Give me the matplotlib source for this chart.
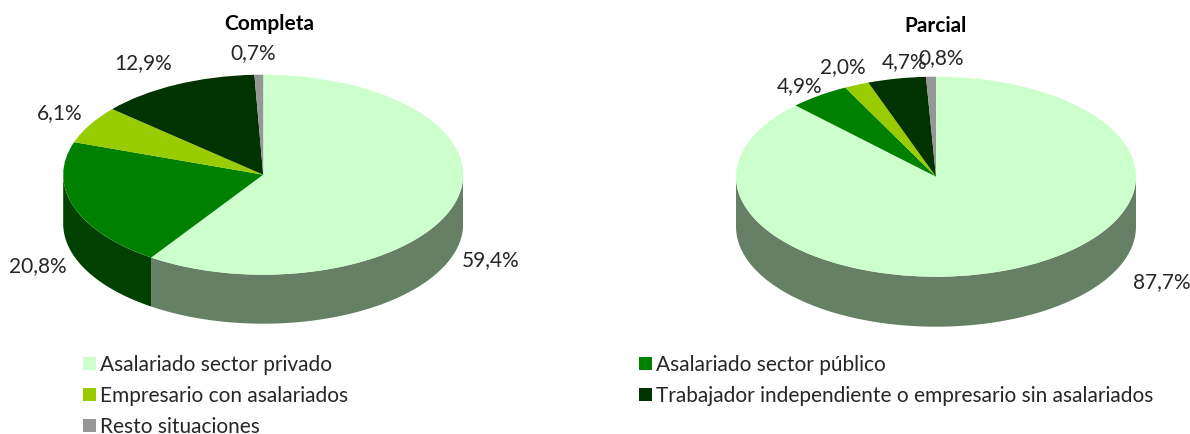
import matplotlib
matplotlib.use('Agg')
import matplotlib.pyplot as plt
from matplotlib.patches import Rectangle
import numpy as np

plt.rcParams['font.family'] = ['Lato', 'DejaVu Sans']

W, H = 1190, 435

categories = ['Asalariado sector privado', 'Asalariado sector público',
              'Empresario con asalariados',
              'Trabajador independiente o empresario sin asalariados',
              'Resto situaciones']
completa = [59.4, 20.8, 6.1, 12.9, 0.7]
parcial = [87.7, 4.9, 2.0, 4.7, 0.8]

colors = ['#CCFFCC', '#008000', '#99CC00', '#003300', '#969696']
side_colors = ['#668066', '#004000', '#4D6600', '#001A00', '#4B4B4B']
text_color = '#262626'


def px_text(x, y, s, **kw):
    kw.setdefault('color', text_color)
    kw.setdefault('fontsize', 15)
    return fig.text(x / W, 1 - y / H, s, va='center', **kw)


def pie3d(cx, cy, values, title, title_x, title_y, label_pos, rx=200, ry=100, depth=49):
    ax = fig.add_axes([(cx - rx) / W, 1 - (cy + ry + depth) / H,
                       2 * rx / W, (2 * ry + depth) / H])
    # side wall, only the front half of the rim is visible
    d = depth / ry
    edges = np.cumsum([0] + list(values)) / sum(values) * 2 * np.pi
    for i in range(len(values)):
        a = np.linspace(edges[i], edges[i + 1], 200)
        a = a[(a >= np.pi / 2) & (a <= 3 * np.pi / 2)]
        if len(a) < 2:
            continue
        x = np.sin(a)
        y = np.cos(a)
        ax.fill(np.r_[x, x[::-1]], np.r_[y, y[::-1] - d],
                color=side_colors[i], lw=0)
    ax.pie(values, colors=colors, startangle=90, counterclock=False,
           radius=1, frame=False, wedgeprops={'linewidth': 0})
    ax.set_aspect('auto')
    ax.set_xlim(-1, 1)
    ax.set_ylim(-1 - d, 1)
    ax.axis('off')

    fig.text(title_x / W, 1 - title_y / H, title, ha='center', va='center',
             fontsize=15, fontweight='bold', color='black')
    for v, (lx, ly) in zip(values, label_pos):
        px_text(lx, ly, f'{v:.1f}%'.replace('.', ','), ha='center')


fig = plt.figure(figsize=(W / 100, H / 100), dpi=100, facecolor='white')

pie3d(263.2, 175.7, completa, 'Completa', 269, 24.5,
      [(491, 260), (38, 266), (60, 113), (143, 63), (253, 53)])
pie3d(936, 177.7, parcial, 'Parcial', 936, 25.5,
      [(1161.5, 282), (800, 86), (843, 67), (905, 62), (941, 58)], depth=50)

# legend, filled row by row
legend_pos = [(83, 364), (639, 364), (83, 395), (639, 395), (83, 426)]
for name, c, (x, y) in zip(categories, colors, legend_pos):
    fig.add_artist(Rectangle((x / W, 1 - (y + 6.5) / H), 13 / W, 13 / H,
                             transform=fig.transFigure, color=c, lw=0))
    px_text(x + 17, y + 1, name, ha='left')

fig.savefig('out.png', dpi=100)
